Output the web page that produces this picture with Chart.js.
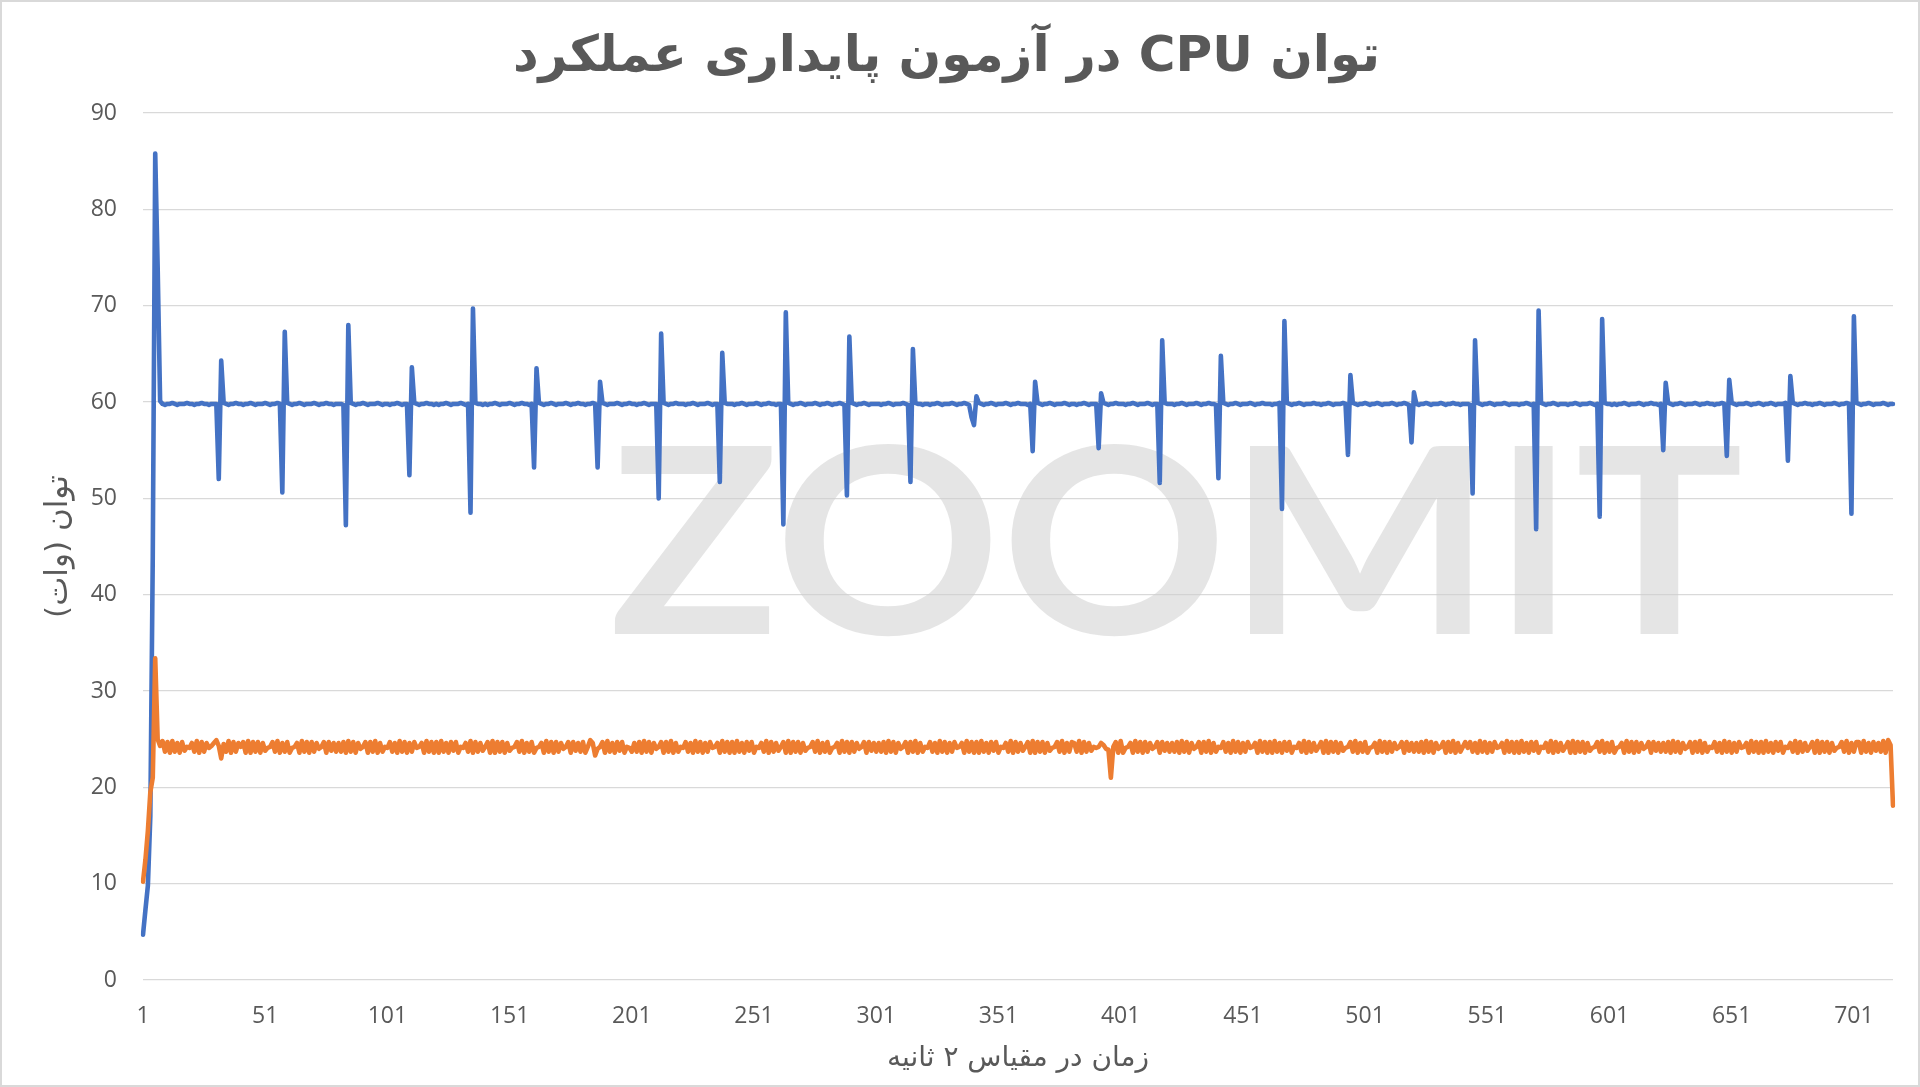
<!DOCTYPE html>
<html>
<head>
<meta charset="utf-8">
<script src="https://cdn.jsdelivr.net/npm/chart.js@4.4.1/dist/chart.umd.min.js"></script>
<style>
html,body{margin:0;padding:0;background:#ffffff;}
#wrap{position:relative;width:1920px;height:1087px;overflow:hidden;}
#frame{position:absolute;left:0;top:0;width:1920px;height:1087px;box-sizing:border-box;border:2px solid #d9d9d9;pointer-events:none;}
canvas{display:block;}
</style>
</head>
<body>
<div id="wrap"><canvas id="c" width="1920" height="1087" dir="rtl"></canvas><div id="frame"></div></div>
<script>
const titleText = 'توان CPU در آزمون پایداری عملکرد';
const yAxisTitle = 'توان (وات)';
const xAxisTitle = 'زمان در مقیاس ۲ ثانیه';
const watermarkText = 'ZOOMIT';
const xTickLabels = ['1','51','101','151','201','251','301','351','401','451','501','551','601','651','701'];
const yTickValues = [0,10,20,30,40,50,60,70,80,90];

const blueValues = [
4.7,7.3,9.8,17,44,85.8,74,60.1,59.8,59.7,59.8,59.8,59.9,59.8,59.7,59.8,59.8,59.8,59.9,59.8,
59.8,59.7,59.8,59.8,59.9,59.8,59.8,59.7,59.8,59.8,59.8,52.0,64.3,59.9,59.8,59.7,59.8,59.8,59.9,59.8,
59.8,59.7,59.8,59.8,59.9,59.8,59.7,59.8,59.8,59.8,59.9,59.8,59.7,59.8,59.8,59.9,59.8,50.6,67.3,59.9,
59.8,59.7,59.8,59.8,59.9,59.8,59.7,59.8,59.8,59.8,59.9,59.8,59.7,59.8,59.8,59.9,59.8,59.8,59.7,59.8,
59.8,59.8,59.7,47.2,68.0,59.9,59.8,59.7,59.8,59.8,59.9,59.8,59.7,59.8,59.8,59.8,59.9,59.8,59.7,59.8,
59.8,59.7,59.8,59.8,59.9,59.8,59.7,59.8,59.8,52.4,63.6,59.9,59.8,59.7,59.8,59.8,59.9,59.8,59.8,59.7,
59.8,59.7,59.8,59.8,59.9,59.8,59.7,59.8,59.8,59.8,59.9,59.8,59.7,59.8,48.5,69.7,59.9,59.8,59.8,59.7,
59.8,59.7,59.8,59.8,59.9,59.8,59.7,59.8,59.8,59.8,59.9,59.8,59.7,59.8,59.8,59.9,59.8,59.8,59.7,59.8,
53.2,63.5,59.9,59.8,59.7,59.8,59.8,59.9,59.8,59.7,59.8,59.8,59.8,59.9,59.8,59.7,59.8,59.8,59.9,59.8,
59.8,59.7,59.8,59.8,59.9,59.8,53.2,62.1,59.9,59.8,59.7,59.8,59.8,59.8,59.9,59.8,59.7,59.8,59.8,59.9,
59.8,59.8,59.7,59.8,59.8,59.9,59.8,59.7,59.8,59.8,59.8,50.0,67.1,59.9,59.8,59.7,59.8,59.8,59.9,59.8,59.8,
59.8,59.7,59.8,59.8,59.9,59.8,59.7,59.8,59.8,59.8,59.9,59.8,59.7,59.8,59.8,51.7,65.1,59.9,59.8,59.8,
59.8,59.7,59.8,59.8,59.9,59.8,59.7,59.8,59.8,59.8,59.9,59.8,59.7,59.8,59.8,59.9,59.8,59.8,59.7,59.8,
59.8,47.3,69.3,59.9,59.8,59.7,59.8,59.8,59.9,59.8,59.7,59.8,59.8,59.8,59.9,59.8,59.7,59.8,59.8,59.9,
59.8,59.7,59.8,59.8,59.9,59.8,59.7,50.3,66.8,59.9,59.8,59.7,59.8,59.8,59.9,59.8,59.7,59.8,59.8,59.8,
59.8,59.7,59.8,59.8,59.9,59.8,59.7,59.8,59.8,59.8,59.9,59.8,59.7,51.7,65.5,59.9,59.8,59.8,59.7,59.8,
59.8,59.7,59.8,59.8,59.9,59.8,59.7,59.8,59.8,59.8,59.9,59.8,59.7,59.8,59.8,59.9,59.8,59.7,58.4,57.6,
60.6,59.9,59.8,59.7,59.8,59.8,59.9,59.8,59.7,59.8,59.8,59.8,59.9,59.8,59.7,59.8,59.8,59.9,59.8,59.8,
59.8,59.7,59.8,54.9,62.1,59.9,59.8,59.7,59.8,59.8,59.9,59.8,59.7,59.8,59.8,59.8,59.9,59.8,59.7,59.8,
59.8,59.7,59.8,59.8,59.9,59.8,59.7,59.8,59.8,59.8,55.2,60.9,59.9,59.8,59.7,59.8,59.8,59.9,59.8,59.8,
59.8,59.7,59.8,59.8,59.9,59.8,59.7,59.8,59.8,59.8,59.9,59.8,59.7,59.8,59.8,51.6,66.4,59.9,59.8,59.8,
59.8,59.7,59.8,59.8,59.9,59.8,59.7,59.8,59.8,59.8,59.9,59.8,59.7,59.8,59.8,59.9,59.8,59.8,59.7,52.1,
64.8,59.9,59.8,59.7,59.8,59.8,59.9,59.8,59.7,59.8,59.8,59.8,59.9,59.8,59.7,59.8,59.8,59.9,59.8,59.8,
59.8,59.7,59.8,59.8,59.9,48.9,68.4,59.9,59.8,59.7,59.8,59.8,59.9,59.8,59.7,59.8,59.8,59.8,59.9,59.8,
59.8,59.7,59.8,59.8,59.9,59.8,59.7,59.8,59.8,59.8,59.9,59.8,54.5,62.8,59.9,59.8,59.7,59.8,59.8,59.9,
59.8,59.7,59.8,59.8,59.9,59.8,59.7,59.8,59.8,59.8,59.9,59.8,59.7,59.8,59.8,59.9,59.8,59.7,55.8,61.0,
59.8,59.7,59.8,59.8,59.9,59.8,59.7,59.8,59.8,59.8,59.9,59.8,59.7,59.8,59.8,59.9,59.8,59.8,59.7,59.8,59.8,
59.8,59.7,50.5,66.4,59.9,59.8,59.7,59.8,59.8,59.9,59.8,59.7,59.8,59.8,59.8,59.9,59.8,59.7,59.8,59.8,
59.8,59.7,59.8,59.8,59.9,59.8,59.7,59.8,46.8,69.5,59.9,59.8,59.7,59.8,59.8,59.9,59.8,59.7,59.8,59.8,
59.8,59.7,59.8,59.8,59.9,59.8,59.7,59.8,59.8,59.8,59.9,59.8,59.7,59.8,48.1,68.6,59.9,59.8,59.8,59.7,
59.8,59.7,59.8,59.8,59.9,59.8,59.7,59.8,59.8,59.8,59.9,59.8,59.7,59.8,59.8,59.9,59.8,59.8,59.7,59.8,
55.0,62.0,59.9,59.8,59.7,59.8,59.8,59.9,59.8,59.7,59.8,59.8,59.8,59.9,59.8,59.7,59.8,59.8,59.9,59.8,
59.8,59.7,59.8,59.8,59.9,59.8,54.4,62.3,59.9,59.8,59.7,59.8,59.8,59.8,59.9,59.8,59.7,59.8,59.8,59.9,
59.8,59.7,59.8,59.8,59.9,59.8,59.7,59.8,59.8,59.8,59.9,53.9,62.7,59.9,59.8,59.7,59.8,59.8,59.9,59.8,
59.8,59.7,59.8,59.8,59.9,59.8,59.7,59.8,59.8,59.8,59.9,59.8,59.7,59.8,59.8,59.9,59.8,48.4,68.9,59.9,
59.8,59.7,59.8,59.8,59.9,59.8,59.7,59.8,59.8,59.8,59.9,59.8,59.7,59.8,59.8
];

const orangeValues = [
10.2,12.5,15.5,19.5,21.0,33.4,25.0,24.3,24.8,23.7,24.7,23.6,24.8,23.7,24.6,23.6,24.7,23.8,24.2,24.1,
24.6,23.7,24.8,23.6,24.7,23.7,24.6,24.1,24.3,24.6,24.9,24.3,23.0,24.5,23.7,24.8,23.6,24.7,23.7,24.6,
24.2,24.7,23.6,24.8,23.6,24.7,23.7,24.7,23.6,24.6,23.8,24.1,24.2,24.7,23.7,24.8,23.6,24.6,23.7,24.7,
23.6,24.1,24.2,24.6,23.6,24.8,23.7,24.7,23.6,24.7,23.7,24.6,24.0,24.2,24.7,23.6,24.7,23.8,24.6,23.7,
24.6,23.7,24.7,23.6,24.8,23.7,24.7,23.6,24.6,24.0,24.2,24.7,23.6,24.7,23.7,24.8,23.6,24.6,23.7,24.2,
24.1,24.7,23.7,24.6,23.6,24.8,23.7,24.7,23.6,24.6,23.7,24.7,24.1,24.2,24.6,23.6,24.8,23.7,24.7,23.6,
24.7,23.6,24.8,23.7,24.6,23.6,24.7,23.8,24.7,23.6,24.2,24.1,24.6,23.7,24.8,23.6,24.7,23.7,24.6,23.8,
24.2,24.7,23.6,24.8,23.6,24.7,23.7,24.7,23.6,24.6,23.8,24.1,24.2,24.7,23.7,24.8,23.6,24.6,23.7,24.7,
23.6,24.1,24.2,24.6,23.6,24.8,23.7,24.7,23.6,24.7,23.7,24.6,24.0,24.2,24.7,23.6,24.7,23.8,24.6,23.7,
24.7,23.6,24.2,24.9,24.6,23.3,24.0,24.2,24.7,23.6,24.8,23.7,24.6,23.6,24.7,23.8,24.7,23.6,24.2,24.1,
23.7,24.6,23.7,24.7,23.6,24.8,23.7,24.7,23.6,24.6,24.0,24.2,24.7,23.6,24.7,23.7,24.8,23.6,24.6,23.7,24.2,
24.1,24.7,23.7,24.6,23.6,24.8,23.7,24.7,23.6,24.6,23.7,24.7,24.1,24.2,24.6,23.6,24.8,23.7,24.7,23.6,
24.7,23.6,24.8,23.7,24.6,23.6,24.7,23.8,24.7,23.6,24.2,24.1,24.6,23.7,24.8,23.6,24.7,23.7,24.6,23.8,
24.2,24.7,23.6,24.8,23.6,24.7,23.7,24.7,23.6,24.6,23.8,24.1,24.2,24.7,23.7,24.8,23.6,24.6,23.7,24.7,
23.6,24.1,24.2,24.6,23.6,24.8,23.7,24.7,23.6,24.7,23.7,24.6,24.0,24.2,24.7,23.6,24.7,23.8,24.6,23.7,
24.6,23.7,24.7,23.6,24.8,23.7,24.7,23.6,24.6,24.0,24.2,24.7,23.6,24.7,23.7,24.8,23.6,24.6,23.7,24.2,
24.1,24.7,23.7,24.6,23.6,24.8,23.7,24.7,23.6,24.6,23.7,24.7,24.1,24.2,24.6,23.6,24.8,23.7,24.7,23.6,
24.7,23.6,24.8,23.7,24.6,23.6,24.7,23.8,24.7,23.6,24.2,24.1,24.6,23.7,24.8,23.6,24.7,23.7,24.6,23.8,
24.2,24.7,23.6,24.8,23.6,24.7,23.7,24.7,23.6,24.6,23.8,24.1,24.2,24.7,23.7,24.8,23.6,24.6,23.7,24.7,
24.6,23.7,24.8,23.6,24.7,23.7,24.6,23.8,24.2,24.1,24.2,24.6,24.4,24.0,23.9,21.0,24.2,24.7,23.6,24.8,
23.6,24.1,24.2,24.6,23.6,24.8,23.7,24.7,23.6,24.7,23.7,24.6,24.0,24.2,24.7,23.6,24.7,23.8,24.6,23.7,
24.6,23.7,24.7,23.6,24.8,23.7,24.7,23.6,24.6,24.0,24.2,24.7,23.6,24.7,23.7,24.8,23.6,24.6,23.7,24.2,
24.1,24.7,23.7,24.6,23.6,24.8,23.7,24.7,23.6,24.6,23.7,24.7,24.1,24.2,24.6,23.6,24.8,23.7,24.7,23.6,
24.7,23.6,24.8,23.7,24.6,23.6,24.7,23.8,24.7,23.6,24.2,24.1,24.6,23.7,24.8,23.6,24.7,23.7,24.6,23.8,
24.2,24.7,23.6,24.8,23.6,24.7,23.7,24.7,23.6,24.6,23.8,24.1,24.2,24.7,23.7,24.8,23.6,24.6,23.7,24.7,
23.6,24.1,24.2,24.6,23.6,24.8,23.7,24.7,23.6,24.7,23.7,24.6,24.0,24.2,24.7,23.6,24.7,23.8,24.6,23.7,
24.6,23.7,24.7,23.6,24.8,23.7,24.7,23.6,24.6,24.0,24.2,24.7,23.6,24.7,23.7,24.8,23.6,24.6,23.7,24.2,24.7,
24.1,24.7,23.7,24.6,23.6,24.8,23.7,24.7,23.6,24.6,23.7,24.7,24.1,24.2,24.6,23.6,24.8,23.7,24.7,23.6,
24.7,23.6,24.8,23.7,24.6,23.6,24.7,23.8,24.7,23.6,24.2,24.1,24.6,23.7,24.8,23.6,24.7,23.7,24.6,23.8,
24.2,24.7,23.6,24.8,23.6,24.7,23.7,24.7,23.6,24.6,23.8,24.1,24.2,24.7,23.7,24.8,23.6,24.6,23.7,24.7,
23.6,24.1,24.2,24.6,23.6,24.8,23.7,24.7,23.6,24.7,23.7,24.6,24.0,24.2,24.7,23.6,24.7,23.8,24.6,23.7,
24.6,23.7,24.7,23.6,24.8,23.7,24.7,23.6,24.6,24.0,24.2,24.7,23.6,24.7,23.7,24.8,23.6,24.6,23.7,24.2,
24.1,24.7,23.7,24.6,23.6,24.8,23.7,24.7,23.6,24.6,23.7,24.7,24.1,24.2,24.6,23.6,24.8,23.7,24.7,23.6,
24.7,23.6,24.8,23.7,24.6,23.6,24.7,23.8,24.7,23.6,24.2,24.1,24.6,23.7,24.8,23.6,24.7,23.7,24.6,23.8,
24.2,24.7,23.6,24.8,23.6,24.7,23.7,24.7,23.6,24.6,23.8,24.1,24.2,24.7,23.7,24.8,23.6,24.6,23.7,24.7,
24.7,23.6,24.8,23.7,24.6,23.6,24.7,23.8,24.6,23.7,24.8,23.6,24.9,24.4,18.1
];

const categories = blueValues.map((v, i) => String(i + 1));

const watermarkPlugin = {
  id: 'watermark',
  beforeDatasetsDraw(chart) {
    const {ctx, chartArea} = chart;
    const w = chartArea.right - chartArea.left;
    const h = chartArea.bottom - chartArea.top;
    ctx.save();
    ctx.direction = 'ltr';
    ctx.font = '700 260px Lato';
    ctx.fillStyle = 'rgba(205,205,205,0.52)';
    ctx.textBaseline = 'alphabetic';
    ctx.textAlign = 'left';
    const m = ctx.measureText(watermarkText).width;
    const x0 = chartArea.left + w * 0.2665;
    const targetW = w * 0.648;
    const yBase = chartArea.top + h * 0.601;
    ctx.translate(x0, yBase);
    ctx.scale(targetW / m, 1);
    ctx.fillText(watermarkText, 0, 0);
    ctx.restore();
  }
};

const chart = new Chart(document.getElementById('c'), {
  type: 'line',
  data: {
    labels: categories,
    datasets: [
      {
        data: blueValues,
        borderColor: '#4472C4',
        backgroundColor: '#4472C4',
        borderWidth: 4.6,
        pointRadius: 0,
        tension: 0,
        borderJoinStyle: 'round',
        borderCapStyle: 'round',
        fill: false,
        order: 1
      },
      {
        data: orangeValues,
        borderColor: '#ED7D31',
        backgroundColor: '#ED7D31',
        borderWidth: 4.6,
        pointRadius: 0,
        tension: 0,
        borderJoinStyle: 'round',
        borderCapStyle: 'round',
        fill: false,
        order: 0
      }
    ]
  },
  options: {
    responsive: false,
    animation: false,
    devicePixelRatio: 1,
    layout: { padding: { left: 0, right: 27, top: 0, bottom: 0 } },
    plugins: {
      legend: { display: false },
      tooltip: { enabled: false },
      title: {
        display: true,
        text: titleText,
        color: '#595959',
        font: { family: 'DejaVu Sans', size: 50, weight: 'bold', lineHeight: 1 },
        padding: { top: 33, bottom: 30 }
      }
    },
    scales: {
      x: {
        type: 'category',
        offset: false,
        grid: { display: false, drawTicks: false },
        border: { display: false },
        ticks: {
          autoSkip: false,
          maxRotation: 0,
          minRotation: 0,
          padding: 23,
          color: '#595959',
          font: { family: 'Open Sans', size: 23, lineHeight: 1.2 },
          callback: function (value) {
            const lab = this.getLabelForValue(value);
            return xTickLabels.includes(lab) ? lab : null;
          }
        },
        title: {
          display: true,
          text: xAxisTitle,
          color: '#595959',
          font: { family: 'DejaVu Sans', size: 28, lineHeight: 1.2 },
          padding: { top: 0, bottom: 11 }
        },
        afterFit: function (scale) { scale.height = 107; }
      },
      y: {
        min: 0,
        max: 90,
        afterBuildTicks: function (scale) { scale.ticks = yTickValues.map(v => ({ value: v })); },
        grid: { color: '#d9d9d9', lineWidth: 1.2, drawTicks: false },
        border: { display: false },
        ticks: {
          padding: 26,
          color: '#595959',
          font: { family: 'Open Sans', size: 23, lineHeight: 1.2 }
        },
        title: {
          display: true,
          text: yAxisTitle,
          color: '#595959',
          font: { family: 'DejaVu Sans', size: 31, lineHeight: 1.2 },
          padding: { top: 40, bottom: 0 }
        },
        afterFit: function (scale) { scale.width = 143; }
      }
    }
  },
  plugins: [watermarkPlugin]
});
</script>
</body>
</html>
